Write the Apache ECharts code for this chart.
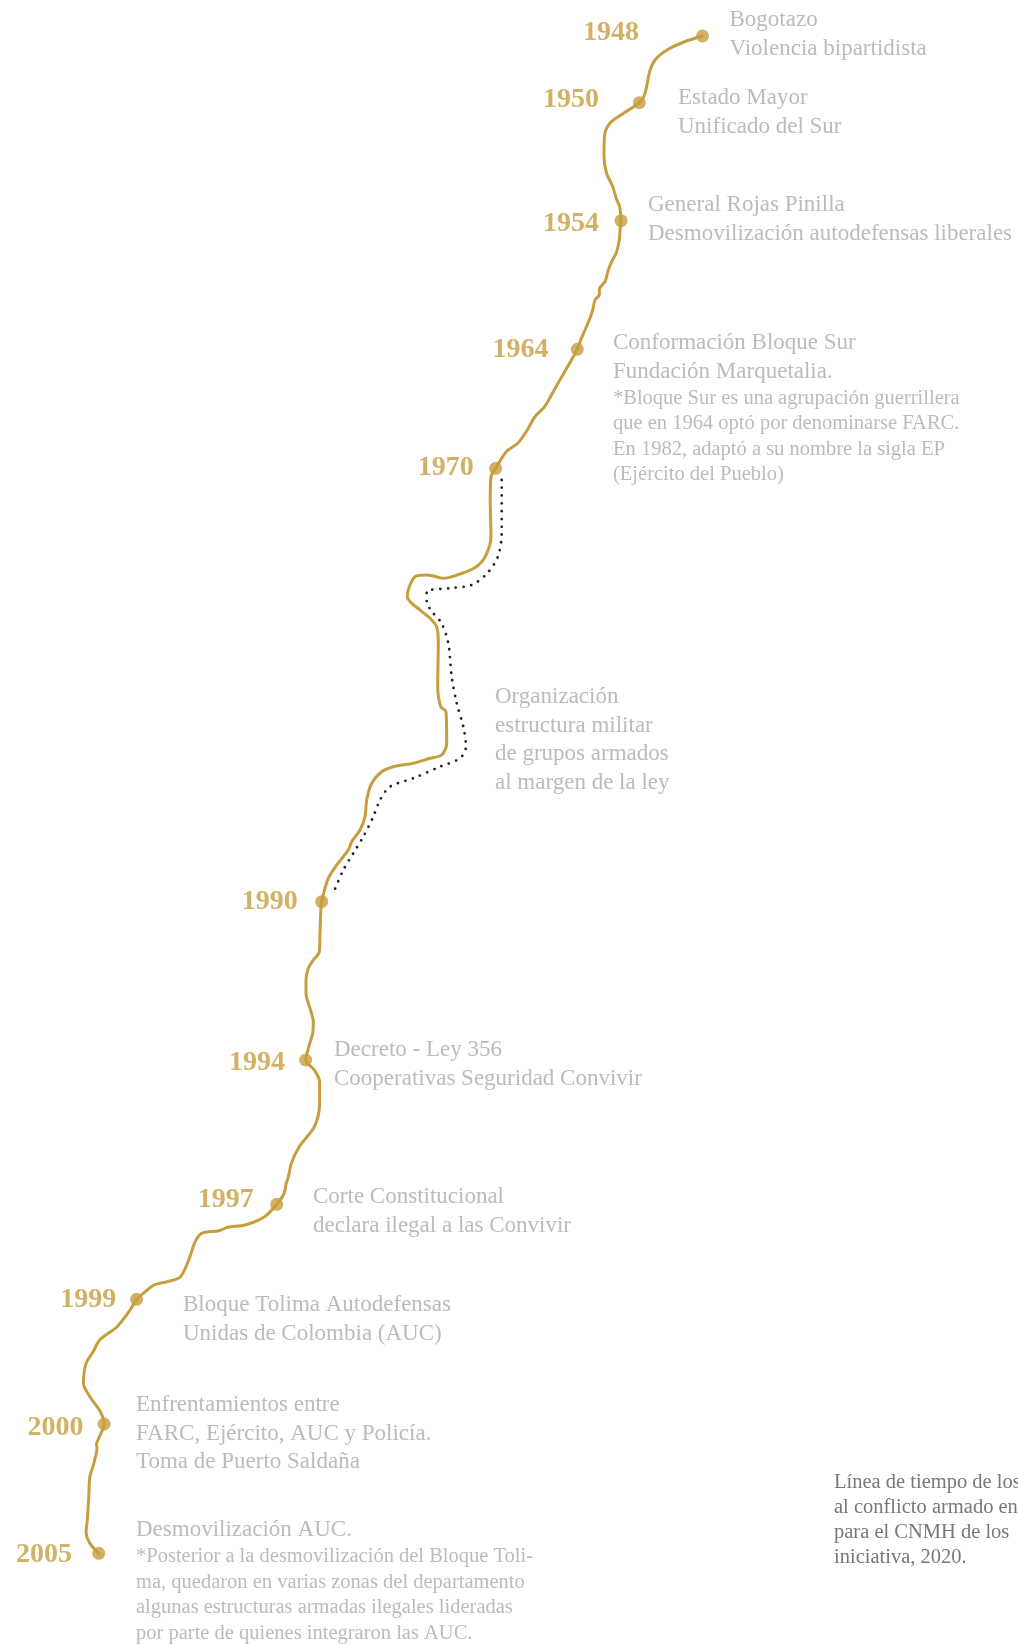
<!DOCTYPE html>
<html>
<head>
<meta charset="utf-8">
<script src="https://cdn.jsdelivr.net/npm/echarts@6/dist/echarts.min.js"></script>
<style>
html,body{margin:0;padding:0;background:#fff;}
#chart{width:1018px;height:1644px;}
</style>
</head>
<body>
<div id="chart"></div>
<script>
// ---- Data (chart units = reference pixels) ----
const years = ['1948','1950','1954','1964','1970','1990','1994','1997','1999','2000','2005'];

const eventPoints = [
  [702.5,36],[639.4,102.7],[621,220.7],[577.3,349.3],[495.6,468.3],
  [321.7,901.7],[305.7,1060],[276.7,1204.3],[136.6,1299.3],[104.1,1424],[98.7,1553.3]
];

const timelinePath = [
  [702.5,36],[684,42],[667,50],[655,60],[649.5,72],[647,85],[644,96],[639.4,102.7],
  [624,113],[610,123],[604.5,136],[604,156],[606.5,173],[612.5,186],[616.5,199],[619.5,206],[620.5,213],[621,220.7],
  [620,230],[619.3,240],[616.7,251.7],[611.7,261.7],[608.3,270],[605,281.7],[599.5,289],[599.3,295],[595,300],
  [592.7,310],[589.3,320],[585,330],[580.7,340],[577.3,349.3],
  [567.5,366.7],[556,386.7],[544.6,406.7],[535,416.7],[527.3,430],[517.8,443.3],[506.3,451.7],[495.6,468.3],
  [491,476.7],[490.2,500],[491,536.7],[485.2,556.7],[476,567],[460,574],[443.3,578.3],[433.3,576],[426.7,575],
  [415,576.7],[409.3,586.7],[407.3,596.7],[411.7,603.3],[420,610],[430,618.3],[436.7,626.7],[438.3,643.3],
  [437.7,686.7],[440.7,706.7],[446,711.7],[446.7,743.3],[441.7,755],[430,758.3],[413.3,763.3],[393.3,766.7],
  [381.7,771.7],[371.7,783.3],[366.7,800],[365,816.7],[360,830],[351.7,841.7],[348.3,850],[336.7,865],
  [328.3,878.3],[321.7,901.7],
  [320.7,913.3],[320,933.3],[319.3,951.7],[313.3,960],[308.3,968.3],[306,980],[306,993.3],[310,1008.3],
  [313.3,1021.7],[312.7,1033.3],[309.3,1045],[305.7,1060],
  [314.4,1070],[319.6,1081.7],[319.6,1103.3],[314.4,1126.7],[299.2,1146.7],[291.4,1163.3],[288.4,1176.7],
  [286.2,1183.3],[284.1,1193.3],[276.7,1204.3],
  [264.6,1216.7],[245,1225],[227.7,1227.3],[219,1230.7],[201.7,1233.3],[195.2,1241.7],[188.7,1260],
  [180,1277.3],[167,1281.7],[154,1285],[145.3,1291.7],[136.6,1299.3],
  [130.1,1310],[117.1,1326.7],[99.7,1340],[93,1352],[86.1,1363.3],[83.4,1383.3],[89.9,1396.7],[100.3,1411.7],
  [104.1,1424],[98.7,1438.3],[96.5,1444],[97,1448],[93.8,1463.3],[89.9,1476.7],[88.8,1496.7],[87.3,1520],
  [86.1,1531.7],[89.9,1543.3],[98.7,1553.3]
];

const armedGroupsPath = [
  [501.7,480],[501.7,533.3],[497.9,556.7],[487.2,573.3],[471.8,585],[448.9,588.3],[426.7,591.7],
  [426.7,601.7],[433.3,613.3],[441.7,623.3],[448.3,643.3],[451.7,676.7],[456.7,703.3],[463.3,726.7],
  [466,746.7],[460,758.3],[440,766.7],[413.3,778.3],[390,786.7],[380,800],[373.3,816.7],[363.3,836.7],
  [353.3,853.3],[343.3,870],[333.3,893.3]
];

const eventTitles = [
  ['Bogotazo','Violencia bipartidista'],
  ['Estado Mayor','Unificado del Sur'],
  ['General Rojas Pinilla','Desmovilización autodefensas liberales'],
  ['Conformación Bloque Sur','Fundación Marquetalia.'],
  ['Organización','estructura militar','de grupos armados','al margen de la ley'],
  ['Decreto - Ley 356','Cooperativas Seguridad Convivir'],
  ['Corte Constitucional','declara ilegal a las Convivir'],
  ['Bloque Tolima Autodefensas','Unidas de Colombia (AUC)'],
  ['Enfrentamientos entre','FARC, Ejército, AUC y Policía.','Toma de Puerto Saldaña'],
  ['Desmovilización AUC.']
];

const eventNotes = [
  [],[],[],
  ['*Bloque Sur es una agrupación guerrillera','que en 1964 optó por denominarse FARC.','En 1982, adaptó a su nombre la sigla EP','(Ejército del Pueblo)'],
  [],[],[],[],[],
  ['*Posterior a la desmovilización del Bloque Toli-','ma, quedaron en varias zonas del departamento','algunas estructuras armadas ilegales lideradas','por parte de quienes integraron las AUC.']
];

const sourceNote = ['Línea de tiempo de los','al conflicto armado en','para el CNMH de los','iniciativa, 2020.'];

// ---- Layout (text anchors, not data) ----
const yearLabelAnchors = [
  [639,33],[599,100],[599,224],[548.4,350],[473.8,468],
  [297.7,901.7],[285,1063],[253.7,1200],[116.2,1300],[83.4,1428],[72,1555]
];
const titleAnchors = [
  [729.5,20],[678,98],[648,205],[613,343],[495,697],
  [334,1050],[313,1197],[183,1305],[136,1405],[136,1530]
];
const sourceAnchor = [834,1483];

// ---- Styles ----
const GOLD = '#c79e3e';
const GREY = '#aaaaaa';
const SERIF = '"Liberation Serif", "DejaVu Serif", serif';

const yearData = years.map((y, i) => ({ value: yearLabelAnchors[i], name: y }));
const textData = eventTitles.map((t, i) => ({
  value: titleAnchors[i],
  titles: t,
  notes: eventNotes[i]
}));

const chart = echarts.init(document.getElementById('chart'), null, { renderer: 'canvas' });
chart.setOption({
  animation: false,
  backgroundColor: '#ffffff',
  grid: { left: 0, right: 0, top: 0, bottom: 0, containLabel: false },
  xAxis: { type: 'value', min: 0, max: 1018, show: false },
  yAxis: { type: 'value', min: 0, max: 1644, inverse: true, show: false },
  series: [
    {
      type: 'line',
      data: armedGroupsPath,
      smooth: 0.3,
      showSymbol: false,
      symbol: 'none',
      lineStyle: { color: '#222222', width: 2.8, type: [0, 7.8], cap: 'round' },
      z: 2
    },
    {
      type: 'line',
      data: timelinePath,
      smooth: 0.3,
      showSymbol: false,
      symbol: 'none',
      lineStyle: { color: GOLD, width: 3, cap: 'round', join: 'round' },
      z: 3
    },
    {
      type: 'scatter',
      data: eventPoints,
      symbol: 'circle',
      symbolSize: 13,
      itemStyle: { color: GOLD },
      z: 4
    },
    {
      type: 'scatter',
      data: yearData,
      symbolSize: 0,
      silent: true,
      label: {
        show: true,
        position: 'left',
        distance: 0,
        formatter: p => p.name,
        color: GOLD,
        fontFamily: SERIF,
        fontWeight: 'bold',
        fontSize: 28
      },
      z: 5
    },
    {
      type: 'scatter',
      data: textData,
      symbolSize: 0,
      silent: true,
      label: {
        show: true,
        position: [0, -14.25],
        align: 'left',
        verticalAlign: 'top',
        formatter: p => {
          const lines = p.data.titles.map(s => '{t|' + s + '}');
          p.data.notes.forEach(s => lines.push('{n|' + s + '}'));
          return lines.join('\n');
        },
        rich: {
          t: { fontFamily: SERIF, fontSize: 23, lineHeight: 28.5, color: GREY },
          n: { fontFamily: SERIF, fontSize: 20.5, lineHeight: 25.5, color: GREY }
        }
      },
      z: 5
    },
    {
      type: 'scatter',
      data: [{ value: sourceAnchor }],
      symbolSize: 0,
      silent: true,
      label: {
        show: true,
        position: [0, -12.5],
        align: 'left',
        verticalAlign: 'top',
        formatter: () => sourceNote.join('\n'),
        fontFamily: SERIF,
        fontSize: 20.5,
        lineHeight: 25,
        color: '#555555'
      },
      z: 5
    }
  ]
});
</script>
</body>
</html>
